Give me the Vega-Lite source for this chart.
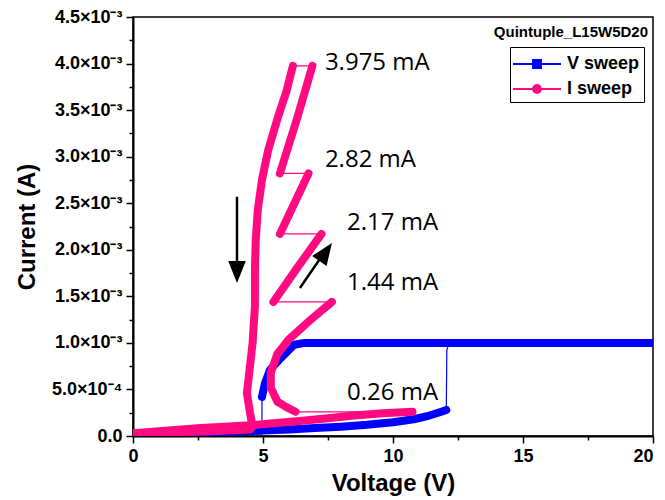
{
  "$schema": "https://vega.github.io/schema/vega-lite/v6.json",
  "autosize": {"type": "none"},
  "padding": {"left": 133, "top": 17, "right": 12, "bottom": 64},
  "width": 520,
  "height": 419,
  "background": "white",
  "config": {
    "view": {"stroke": "black", "strokeWidth": 1.5},
    "axis": {
      "domainColor": "black",
      "domainWidth": 2,
      "tickColor": "black",
      "tickWidth": 1.5,
      "grid": false,
      "labelFont": "Liberation Sans",
      "labelFontWeight": "bold",
      "labelColor": "black",
      "titleFont": "Liberation Sans",
      "titleFontWeight": "bold",
      "titleColor": "black",
      "titleFontSize": 24
    }
  },
  "datasets": {
    "curves": [
      {"series": "V sweep", "seg": "V1", "k": 1, "V": 0, "I": 0.00002},
      {"series": "V sweep", "seg": "V1", "k": 2, "V": 1, "I": 0.000027},
      {"series": "V sweep", "seg": "V1", "k": 3, "V": 2, "I": 0.000035},
      {"series": "V sweep", "seg": "V1", "k": 4, "V": 3, "I": 0.000042},
      {"series": "V sweep", "seg": "V1", "k": 5, "V": 4, "I": 0.00005},
      {"series": "V sweep", "seg": "V1", "k": 6, "V": 5, "I": 0.00006},
      {"series": "V sweep", "seg": "V1", "k": 7, "V": 6, "I": 0.00007},
      {"series": "V sweep", "seg": "V1", "k": 8, "V": 7, "I": 0.000085},
      {"series": "V sweep", "seg": "V1", "k": 9, "V": 8, "I": 0.0001},
      {"series": "V sweep", "seg": "V1", "k": 10, "V": 9, "I": 0.00012},
      {"series": "V sweep", "seg": "V1", "k": 11, "V": 10, "I": 0.000148},
      {"series": "V sweep", "seg": "V1", "k": 12, "V": 10.8, "I": 0.00018},
      {"series": "V sweep", "seg": "V1", "k": 13, "V": 11.4, "I": 0.00022},
      {"series": "V sweep", "seg": "V1", "k": 14, "V": 11.8, "I": 0.000255},
      {"series": "V sweep", "seg": "V1", "k": 15, "V": 12.05, "I": 0.00028},
      {"series": "V sweep", "k": 16, "V": 12.07, "I": 0.00092},
      {"series": "V sweep", "seg": "V2", "k": 17, "V": 12.15, "I": 0.001},
      {"series": "V sweep", "seg": "V2", "k": 18, "V": 20, "I": 0.001},
      {"series": "V sweep", "seg": "V2", "k": 19, "V": 6.6, "I": 0.001},
      {"series": "V sweep", "seg": "V2", "k": 20, "V": 6.2, "I": 0.00098},
      {"series": "V sweep", "seg": "V2", "k": 21, "V": 5.73, "I": 0.00085},
      {"series": "V sweep", "seg": "V2", "k": 22, "V": 5.27, "I": 0.00071},
      {"series": "V sweep", "seg": "V2", "k": 23, "V": 5.08, "I": 0.00057},
      {"series": "V sweep", "seg": "V2", "k": 24, "V": 4.96, "I": 0.00042},
      {"series": "V sweep", "seg": "V3", "k": 25, "V": 4.96, "I": 0.00006},
      {"series": "V sweep", "seg": "V3", "k": 26, "V": 4, "I": 0.00005},
      {"series": "V sweep", "seg": "V3", "k": 27, "V": 2, "I": 0.000035},
      {"series": "V sweep", "seg": "V3", "k": 28, "V": 0, "I": 0.00002},

      {"series": "I sweep", "seg": "I1", "k": 1, "V": 0, "I": 0.00003},
      {"series": "I sweep", "seg": "I1", "k": 2, "V": 1, "I": 0.00005},
      {"series": "I sweep", "seg": "I1", "k": 3, "V": 2.6, "I": 0.000085},
      {"series": "I sweep", "seg": "I1", "k": 4, "V": 3.5, "I": 0.0001},
      {"series": "I sweep", "seg": "I1", "k": 5, "V": 4.5, "I": 0.000115},
      {"series": "I sweep", "seg": "I1", "k": 6, "V": 5.5, "I": 0.00014},
      {"series": "I sweep", "seg": "I1", "k": 7, "V": 6.4, "I": 0.00016},
      {"series": "I sweep", "seg": "I1", "k": 8, "V": 7.5, "I": 0.00019},
      {"series": "I sweep", "seg": "I1", "k": 9, "V": 8.5, "I": 0.00022},
      {"series": "I sweep", "seg": "I1", "k": 10, "V": 9.6, "I": 0.000245},
      {"series": "I sweep", "seg": "I1", "k": 11, "V": 10.75, "I": 0.00026},
      {"series": "I sweep", "seg": "I2", "k": 12, "V": 6.25, "I": 0.00026},
      {"series": "I sweep", "seg": "I2", "k": 13, "V": 5.9, "I": 0.00031},
      {"series": "I sweep", "seg": "I2", "k": 14, "V": 5.55, "I": 0.00037},
      {"series": "I sweep", "seg": "I2", "k": 15, "V": 5.3, "I": 0.00052},
      {"series": "I sweep", "seg": "I2", "k": 16, "V": 5.3, "I": 0.00068},
      {"series": "I sweep", "seg": "I2", "k": 17, "V": 5.55, "I": 0.00088},
      {"series": "I sweep", "seg": "I2", "k": 18, "V": 6.0, "I": 0.00104},
      {"series": "I sweep", "seg": "I2", "k": 19, "V": 6.8, "I": 0.00124},
      {"series": "I sweep", "seg": "I2", "k": 20, "V": 7.65, "I": 0.00144},
      {"series": "I sweep", "seg": "I3", "k": 21, "V": 5.4, "I": 0.00144},
      {"series": "I sweep", "seg": "I3", "k": 22, "V": 6.3, "I": 0.0018},
      {"series": "I sweep", "seg": "I3", "k": 23, "V": 7.25, "I": 0.00217},
      {"series": "I sweep", "seg": "I4", "k": 24, "V": 5.65, "I": 0.00217},
      {"series": "I sweep", "seg": "I4", "k": 25, "V": 6.75, "I": 0.00282},
      {"series": "I sweep", "seg": "I5", "k": 26, "V": 5.65, "I": 0.00282},
      {"series": "I sweep", "seg": "I5", "k": 27, "V": 6.3, "I": 0.0034},
      {"series": "I sweep", "seg": "I5", "k": 28, "V": 6.9, "I": 0.003975},
      {"series": "I sweep", "seg": "I6", "k": 29, "V": 6.15, "I": 0.003975},
      {"series": "I sweep", "seg": "I6", "k": 30, "V": 5.9, "I": 0.0037},
      {"series": "I sweep", "seg": "I6", "k": 31, "V": 5.58, "I": 0.00343},
      {"series": "I sweep", "seg": "I6", "k": 32, "V": 5.2, "I": 0.00307},
      {"series": "I sweep", "seg": "I6", "k": 33, "V": 4.96, "I": 0.00275},
      {"series": "I sweep", "seg": "I6", "k": 34, "V": 4.8, "I": 0.00243},
      {"series": "I sweep", "seg": "I6", "k": 35, "V": 4.72, "I": 0.0021},
      {"series": "I sweep", "seg": "I6", "k": 36, "V": 4.69, "I": 0.0018},
      {"series": "I sweep", "seg": "I6", "k": 37, "V": 4.69, "I": 0.0014},
      {"series": "I sweep", "seg": "I6", "k": 38, "V": 4.6, "I": 0.001},
      {"series": "I sweep", "seg": "I6", "k": 39, "V": 4.45, "I": 0.00063},
      {"series": "I sweep", "seg": "I6", "k": 40, "V": 4.38, "I": 0.00046},
      {"series": "I sweep", "seg": "I6", "k": 41, "V": 4.5, "I": 0.00025},
      {"series": "I sweep", "seg": "I6", "k": 42, "V": 4.6, "I": 0.0001},
      {"series": "I sweep", "seg": "I6", "k": 43, "V": 4.5, "I": 0.00007},
      {"series": "I sweep", "seg": "I6", "k": 44, "V": 3, "I": 0.00005},
      {"series": "I sweep", "seg": "I6", "k": 45, "V": 1.5, "I": 0.00004},
      {"series": "I sweep", "seg": "I6", "k": 46, "V": 0, "I": 0.00003}
    ],
    "notes": [
      {"text": "3.975 mA", "V": 7.38, "I": 0.004006},
      {"text": "2.82 mA", "V": 7.38, "I": 0.002964},
      {"text": "2.17 mA", "V": 8.23, "I": 0.002288},
      {"text": "1.44 mA", "V": 8.23, "I": 0.001643},
      {"text": "0.26 mA", "V": 8.23, "I": 0.000462}
    ]
  },
  "layer": [
    {
      "data": {"name": "curves"},
      "mark": {"type": "line", "strokeWidth": 1.2, "clip": true},
      "encoding": {
        "x": {
          "field": "V", "type": "quantitative",
          "scale": {"domain": [0, 20], "nice": false, "zero": false},
          "axis": {
            "orient": "bottom", "title": "Voltage (V)", "values": [0, 5, 10, 15, 20],
            "tickSize": 7, "labelFontSize": 18, "labelPadding": 4, "titlePadding": 6,
            "labelFlush": false,
            "labelAlign": {"condition": {"test": "datum.value === 20", "value": "right"}, "value": "center"}
          }
        },
        "y": {
          "field": "I", "type": "quantitative",
          "scale": {"domain": [0, 0.0045], "nice": false, "zero": false},
          "axis": {
            "orient": "left", "title": "Current (A)",
            "values": [0, 0.0005, 0.001, 0.0015, 0.002, 0.0025, 0.003, 0.0035, 0.004, 0.0045],
            "labelExpr": "datum.value == 0 ? '0.0' : (datum.value < 0.00099 ? format(datum.value * 1e4, '.1f') + '×10⁻⁴' : format(datum.value * 1e3, '.1f') + '×10⁻³')",
            "tickSize": 7, "labelFontSize": 18, "labelPadding": 4, "titlePadding": 12
          }
        },
        "color": {
          "field": "series", "type": "nominal",
          "scale": {"domain": ["V sweep", "I sweep"], "range": ["#0000ff", "#ff0a80"]},
          "legend": {
            "title": null,
            "orient": "none", "legendX": 377, "legendY": 30,
            "strokeColor": "black", "fillColor": "white", "padding": 4,
            "symbolSize": 576, "symbolStrokeWidth": 2, "symbolOffset": 10,
            "labelFont": "Liberation Sans", "labelFontSize": 18, "labelFontWeight": "bold",
            "labelColor": "black", "labelOffset": 17, "rowPadding": 3,
            "encode": {
              "symbols": {
                "update": {
                  "shape": {"signal": "datum.value === 'V sweep' ? 'M-2,0H-0.33M0.33,0H2M-0.33,-0.33H0.33V0.33H-0.33Z' : 'M-2,0H-0.33M0.33,0H2M-0.33,0A0.33,0.33 0 1,0 0.33,0A0.33,0.33 0 1,0 -0.33,0Z'"},
                  "fill": {"scale": "color", "field": "value"},
                  "stroke": {"scale": "color", "field": "value"},
                  "opacity": {"value": 1}
                }
              }
            }
          }
        },
        "order": {"field": "k", "type": "quantitative"}
      }
    },
    {
      "data": {"name": "curves"},
      "transform": [{"filter": "isValid(datum.seg)"}],
      "mark": {"type": "line", "strokeWidth": 8, "strokeCap": "round", "strokeJoin": "round", "clip": true},
      "encoding": {
        "x": {
          "field": "V", "type": "quantitative",
          "axis": {"orient": "bottom", "values": [2.5, 7.5, 12.5, 17.5], "tickSize": 4, "labels": false, "domain": false, "title": null}
        },
        "y": {
          "field": "I", "type": "quantitative",
          "axis": {"orient": "left", "values": [0.00025, 0.00075, 0.00125, 0.00175, 0.00225, 0.00275, 0.00325, 0.00375, 0.00425], "tickSize": 4, "labels": false, "domain": false, "title": null}
        },
        "color": {"field": "series", "type": "nominal"},
        "detail": {"field": "seg"},
        "order": {"field": "k", "type": "quantitative"}
      }
    },
    {
      "data": {"name": "notes"},
      "mark": {"type": "text", "align": "left", "baseline": "middle", "font": "Open Sans", "fontSize": 24, "color": "black"},
      "encoding": {
        "x": {"field": "V", "type": "quantitative", "axis": null},
        "y": {"field": "I", "type": "quantitative", "axis": null},
        "text": {"field": "text"}
      }
    },
    {
      "data": {"values": [{"text": "Quintuple_L15W5D20", "V": 19.81, "I": 0.004339}]},
      "mark": {"type": "text", "align": "right", "baseline": "middle", "font": "Liberation Sans", "fontWeight": "bold", "fontSize": 15, "color": "black"},
      "encoding": {
        "x": {"field": "V", "type": "quantitative", "axis": null},
        "y": {"field": "I", "type": "quantitative", "axis": null},
        "text": {"field": "text"}
      }
    },
    {
      "data": {"values": [
        {"V": 4.0, "I": 0.00257, "V2": 4.0, "I2": 0.00177},
        {"V": 6.42, "I": 0.00159, "V2": 7.38, "I2": 0.00198}
      ]},
      "mark": {"type": "rule", "strokeWidth": 2.5, "color": "black"},
      "encoding": {
        "x": {"field": "V", "type": "quantitative", "axis": null},
        "y": {"field": "I", "type": "quantitative", "axis": null},
        "x2": {"field": "V2"},
        "y2": {"field": "I2"}
      }
    },
    {
      "data": {"values": [{"V": 4.0, "I": 0.00176}]},
      "mark": {"type": "point", "shape": "M-0.8,-1L0.8,-1L0,1Z", "filled": true, "color": "black", "opacity": 1, "size": 484, "angle": 0},
      "encoding": {
        "x": {"field": "V", "type": "quantitative", "axis": null},
        "y": {"field": "I", "type": "quantitative", "axis": null}
      }
    },
    {
      "data": {"values": [{"V": 7.41, "I": 0.001976}]},
      "mark": {"type": "point", "shape": "M-0.8,-1L0.8,-1L0,1Z", "filled": true, "color": "black", "opacity": 1, "size": 484, "angle": 215},
      "encoding": {
        "x": {"field": "V", "type": "quantitative", "axis": null},
        "y": {"field": "I", "type": "quantitative", "axis": null}
      }
    }
  ],
  "resolve": {"axis": {"x": "independent", "y": "independent"}}
}
